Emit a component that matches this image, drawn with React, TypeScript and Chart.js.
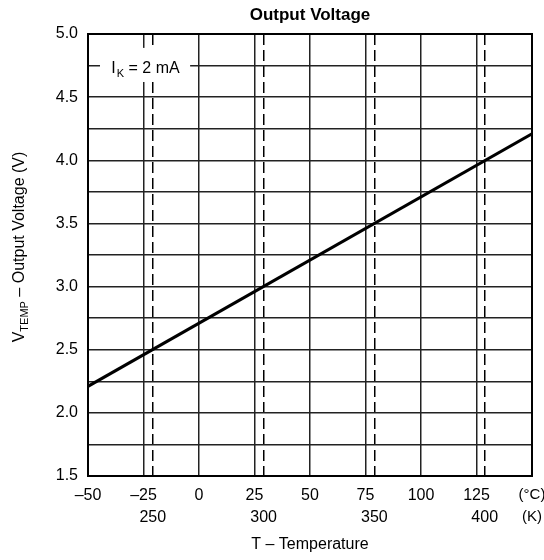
import React, { useEffect, useRef } from 'react';
import { Chart, registerables } from 'chart.js';

Chart.register(...registerables);

// ---- data ----
const lineTempC = [-50, 150];
const lineVolts = [2.21, 4.21];

const celsiusTicks = [-50, -25, 0, 25, 50, 75, 100, 125, 150];
const celsiusLabels = ['–50', '–25', '0', '25', '50', '75', '100', '125', '(°C)'];

const kelvinTickPos = [-20.8, 29.1, 79.0, 128.7, 150];
const kelvinLabels = ['250', '300', '350', '400', '(K)'];

const voltTicks = [1.5, 1.75, 2.0, 2.25, 2.5, 2.75, 3.0, 3.25, 3.5, 3.75, 4.0, 4.25, 4.5, 4.75, 5.0];
const voltLabels = ['1.5', '', '2.0', '', '2.5', '', '3.0', '', '3.5', '', '4.0', '', '4.5', '', '5.0'];

const FONT = "'Liberation Sans', Arial, sans-serif";
const GRID = '#222';

const annotationPlugin = {
  id: 'annot',
  afterDraw(chart: any) {
    const { ctx, chartArea } = chart;
    ctx.save();
    // frame
    ctx.strokeStyle = '#000';
    ctx.lineWidth = 2;
    ctx.strokeRect(chartArea.left, chartArea.top, chartArea.right - chartArea.left, chartArea.bottom - chartArea.top);

    // I_K = 2 mA label box
    const xs = chart.scales.x;
    const ys = chart.scales.y;
    const bx0 = xs.getPixelForValue(-44.6);
    const bx1 = xs.getPixelForValue(-4.0);
    const by0 = ys.getPixelForValue(4.89);
    const by1 = ys.getPixelForValue(4.62);
    ctx.fillStyle = '#fff';
    ctx.fillRect(bx0, by0, bx1 - bx0, by1 - by0);
    ctx.fillStyle = '#000';
    ctx.textBaseline = 'alphabetic';
    ctx.textAlign = 'left';
    const baseY = ys.getPixelForValue(4.695);
    let tx = xs.getPixelForValue(-39.5);
    ctx.font = `16px ${FONT}`;
    ctx.fillText('I', tx, baseY);
    tx += ctx.measureText('I').width + 1;
    ctx.font = `11px ${FONT}`;
    ctx.fillText('K', tx, baseY + 4);
    tx += ctx.measureText('K').width;
    ctx.font = `16px ${FONT}`;
    ctx.fillText(' = 2 mA', tx, baseY);

    // y axis title with subscript
    const big = `16px ${FONT}`;
    const small = `11px ${FONT}`;
    ctx.font = big;
    const wV = ctx.measureText('V').width;
    const wRest = ctx.measureText(' – Output Voltage (V)').width;
    ctx.font = small;
    const wSub = ctx.measureText('TEMP').width;
    const total = wV + wSub + wRest;
    const cy = (chartArea.top + chartArea.bottom) / 2 - 8;
    ctx.translate(24, cy);
    ctx.rotate(-Math.PI / 2);
    let px = -total / 2;
    ctx.font = big;
    ctx.fillText('V', px, 0);
    px += wV;
    ctx.font = small;
    ctx.fillText('TEMP', px, 4);
    px += wSub;
    ctx.font = big;
    ctx.fillText(' – Output Voltage (V)', px, 0);
    ctx.restore();
  },
};

const tickFont = (last: number) => (c: any) => ({
  family: FONT,
  size: c.index === last ? 15 : 16,
});

export default function App() {
  const ref = useRef<HTMLCanvasElement | null>(null);

  useEffect(() => {
    if (!ref.current) return;
    const chart = new Chart(ref.current, {
      type: 'scatter',
      data: {
        datasets: [
          {
            data: lineTempC.map((t, i) => ({ x: t, y: lineVolts[i] })),
            showLine: true,
            borderColor: '#000',
            borderWidth: 3,
            pointRadius: 0,
            xAxisID: 'x',
            yAxisID: 'y',
          },
        ],
      },
      options: {
        responsive: false,
        animation: false,
        devicePixelRatio: 1,
        layout: { padding: { left: 0, right: 12, top: 0, bottom: 0 } },
        plugins: {
          legend: { display: false },
          tooltip: { enabled: false },
          title: {
            display: true,
            text: 'Output Voltage',
            fullSize: false,
            color: '#000',
            font: { family: FONT, size: 17, weight: 'bold' },
            padding: { top: 5, bottom: 8.6 },
          },
        },
        scales: {
          x: {
            type: 'linear',
            position: 'bottom',
            min: -50,
            max: 150,
            afterBuildTicks: (s: any) => {
              s.ticks = celsiusTicks.map((v) => ({ value: v }));
            },
            afterFit: (s: any) => {
              s.paddingLeft = 0;
              s.paddingRight = 0;
              s.height = 30;
            },
            ticks: {
              autoSkip: false,
              maxRotation: 0,
              padding: 10,
              color: '#000',
              font: tickFont(celsiusTicks.length - 1),
              callback: (_v: any, i: number) => celsiusLabels[i],
            },
            grid: { color: GRID, lineWidth: 1.5, drawTicks: false },
            border: { color: '#000', width: 2 },
          },
          x2: {
            type: 'linear',
            position: 'bottom',
            min: -50,
            max: 150,
            afterBuildTicks: (s: any) => {
              s.ticks = kelvinTickPos.map((v) => ({ value: v }));
            },
            afterFit: (s: any) => {
              s.paddingLeft = 0;
              s.paddingRight = 0;
              s.height = 54;
            },
            ticks: {
              autoSkip: false,
              maxRotation: 0,
              padding: 2,
              color: '#000',
              font: tickFont(kelvinTickPos.length - 1),
              callback: (_v: any, i: number) => kelvinLabels[i],
            },
            grid: {
              color: (c: any) => (c.index === kelvinTickPos.length - 1 ? 'rgba(0,0,0,0)' : '#000'),
              lineWidth: 1.5,
              drawTicks: false,
            },
            border: { display: false, dash: [11, 5] },
            title: {
              display: true,
              text: 'T – Temperature',
              color: '#000',
              font: { family: FONT, size: 16 },
              padding: { top: 4, bottom: 6 },
            },
          },
          y: {
            type: 'linear',
            min: 1.5,
            max: 5.0,
            afterBuildTicks: (s: any) => {
              s.ticks = voltTicks.map((v) => ({ value: v }));
            },
            afterFit: (s: any) => {
              s.width = 88;
            },
            ticks: {
              autoSkip: false,
              padding: 10,
              color: '#000',
              font: { family: FONT, size: 16 },
              callback: (_v: any, i: number) => voltLabels[i],
            },
            grid: { color: GRID, lineWidth: 1.5, drawTicks: false },
            border: { color: '#000', width: 2 },
          },
        },
      } as any,
      plugins: [annotationPlugin],
    });
    return () => chart.destroy();
  }, []);

  return (
    <div style={{ position: 'fixed', left: 0, top: 0, width: 544, height: 560, background: '#fff' }}>
      <canvas ref={ref} width={544} height={560} />
    </div>
  );
}
